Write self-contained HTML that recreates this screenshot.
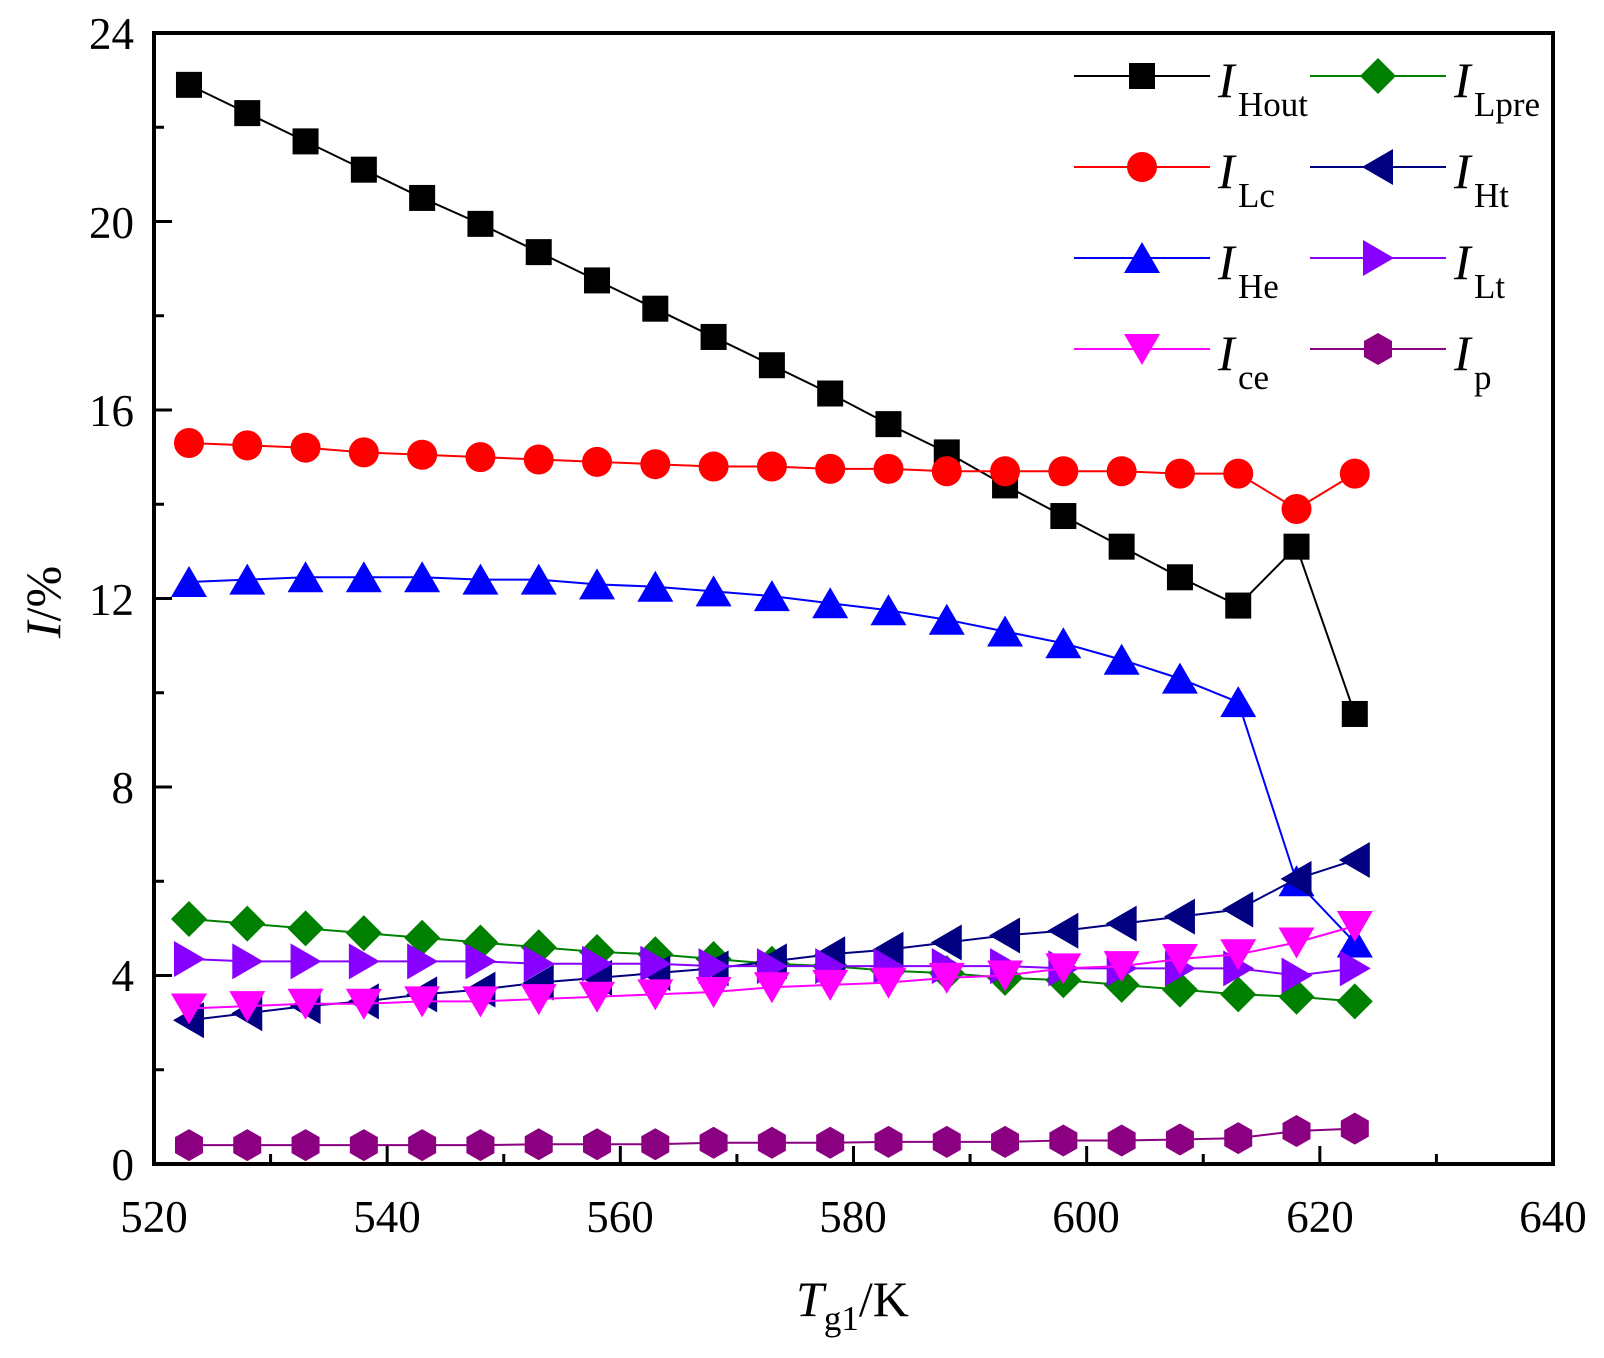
<!DOCTYPE html>
<html><head><meta charset="utf-8"><style>
html,body{margin:0;padding:0;background:#fff}
svg{display:block;font-family:"Liberation Serif",serif}
</style></head><body>
<svg id="s" width="1604" height="1358" viewBox="0 0 1604 1358" xmlns="http://www.w3.org/2000/svg">
<rect width="1604" height="1358" fill="#fff"/>
<g id="plot"></g>
<rect x="154" y="33" width="1399" height="1131" fill="none" stroke="#000" stroke-width="4"/>
<g font-size="45" text-anchor="end">
<text x="134" y="1180">0</text><text x="134" y="991">4</text><text x="134" y="803">8</text>
<text x="134" y="615">12</text><text x="134" y="426">16</text><text x="134" y="238">20</text><text x="134" y="49">24</text>
</g>
<g font-size="45" text-anchor="middle">
<text x="154" y="1232">520</text><text x="387" y="1232">540</text><text x="620" y="1232">560</text>
<text x="853" y="1232">580</text><text x="1086" y="1232">600</text><text x="1320" y="1232">620</text><text x="1553" y="1232">640</text>
</g>
<text transform="translate(60,602) rotate(-90)" font-size="50" text-anchor="middle"><tspan font-style="italic">I</tspan>/%</text>
<text x="796" y="1316" font-size="50"><tspan font-style="italic">T</tspan><tspan font-size="35" dy="14">g1</tspan><tspan dy="-14">/K</tspan></text>
<g font-size="50" font-style="italic">
<text x="1218" y="97">I</text><text x="1454" y="97">I</text>
<text x="1218" y="188">I</text><text x="1454" y="188">I</text>
<text x="1218" y="279">I</text><text x="1454" y="279">I</text>
<text x="1218" y="370">I</text><text x="1454" y="370">I</text>
</g>
<g font-size="35">
<text x="1238" y="116">Hout</text><text x="1474" y="116">Lpre</text>
<text x="1238" y="207">Lc</text><text x="1474" y="207">Ht</text>
<text x="1238" y="298">He</text><text x="1474" y="298">Lt</text>
<text x="1238" y="389">ce</text><text x="1474" y="389">p</text>
</g>
</svg>
<script>
const NS="http://www.w3.org/2000/svg",g=document.getElementById('plot');
const X=v=>154+(v-520)*1399/120, Y=v=>1164-v*1131/24;
function el(t,a){const e=document.createElementNS(NS,t);for(const k in a)e.setAttribute(k,a[k]);g.appendChild(e);return e;}
for(let v=0;v<=24;v+=2){const L=v%4?10:18;el('line',{x1:154,x2:154+L,y1:Y(v),y2:Y(v),stroke:'#000','stroke-width':3});}
for(let v=530;v<640;v+=10){const L=v%20?10:18;el('line',{x1:X(v),x2:X(v),y1:1164,y2:1164-L,stroke:'#000','stroke-width':3});}
const S=[
['#000','sq',[22.9,22.3,21.7,21.1,20.5,19.95,19.35,18.75,18.15,17.55,16.95,16.35,15.7,15.1,14.4,13.75,13.1,12.45,11.85,13.1,9.55]],
['#ff0000','ci',[15.3,15.25,15.2,15.1,15.05,15.0,14.95,14.9,14.85,14.8,14.8,14.75,14.75,14.7,14.7,14.7,14.7,14.65,14.65,13.9,14.65]],
['#0000ff','up',[12.35,12.4,12.45,12.45,12.45,12.4,12.4,12.3,12.25,12.15,12.05,11.9,11.75,11.55,11.3,11.05,10.7,10.3,9.8,6.0,4.7]],
['#008000','di',[5.2,5.1,5.0,4.9,4.8,4.7,4.6,4.5,4.45,4.35,4.25,4.2,4.1,4.05,3.95,3.9,3.8,3.7,3.6,3.55,3.45]],
['#000080','le',[3.05,3.2,3.35,3.45,3.6,3.7,3.85,3.95,4.05,4.15,4.3,4.45,4.55,4.7,4.85,4.95,5.1,5.25,5.4,6.05,6.45]],
['#8800ff','ri',[4.35,4.3,4.3,4.3,4.3,4.3,4.25,4.25,4.25,4.2,4.2,4.2,4.2,4.2,4.2,4.15,4.15,4.15,4.15,4.0,4.15]],
['#ff00ff','dn',[3.3,3.35,3.4,3.4,3.45,3.45,3.5,3.55,3.6,3.65,3.75,3.8,3.85,3.95,4.0,4.15,4.2,4.35,4.45,4.7,5.05]],
['#8b0080','hx',[0.4,0.4,0.4,0.4,0.4,0.4,0.42,0.42,0.42,0.45,0.45,0.45,0.47,0.47,0.47,0.5,0.5,0.52,0.55,0.7,0.75]]];
function mk(t,x,y,c){let p;
 if(t=='sq')return el('rect',{x:x-13,y:y-13,width:26,height:26,fill:c});
 if(t=='ci')return el('circle',{cx:x,cy:y,r:15,fill:c});
 if(t=='up')p=[[x,y-16],[x+18,y+15],[x-18,y+15]];
 if(t=='dn')p=[[x,y+16],[x+18,y-15],[x-18,y-15]];
 if(t=='le')p=[[x-16,y],[x+15,y-18],[x+15,y+18]];
 if(t=='ri')p=[[x+16,y],[x-15,y-18],[x-15,y+18]];
 if(t=='di')p=[[x,y-18],[x+18,y],[x,y+18],[x-18,y]];
 if(t=='hx')p=[[x,y-16],[x+14,y-8],[x+14,y+8],[x,y+16],[x-14,y+8],[x-14,y-8]];
 return el('polygon',{points:p.map(q=>q.join(',')).join(' '),fill:c});}
S.forEach(([c,t,d])=>{el('polyline',{points:d.map((v,i)=>X(523+5*i)+','+Y(v)).join(' '),fill:'none',stroke:c,'stroke-width':2});
 d.forEach((v,i)=>mk(t,X(523+5*i),Y(v),c));});
const leg=[[1074,1210,76],[1310,1446,76],[1074,1210,167],[1310,1446,167],[1074,1210,258],[1310,1446,258],[1074,1210,349],[1310,1446,349]];
const order=[0,3,1,4,2,5,6,7];
order.forEach((si,k)=>{const [c,t]=S[si],[a,b,y]=leg[k];el('line',{x1:a,x2:b,y1:y,y2:y,stroke:c,'stroke-width':2});mk(t,(a+b)/2,y,c);});
</script>
</body></html>
